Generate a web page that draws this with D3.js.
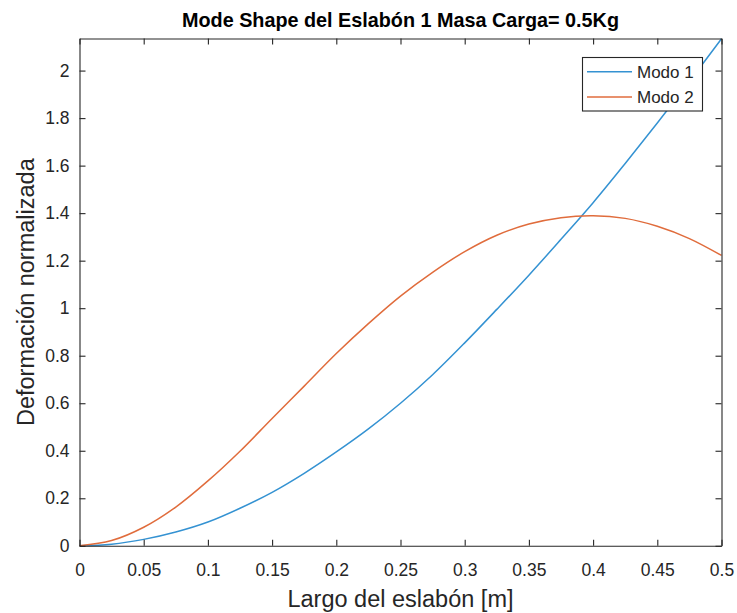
<!DOCTYPE html>
<html>
<head>
<meta charset="utf-8">
<script src="https://cdn.jsdelivr.net/npm/d3@7"></script>
<style>
  html, body { margin: 0; padding: 0; background: #ffffff; }
  svg { display: block; }
  text { font-family: "Liberation Sans", Arial, Helvetica, sans-serif; }
</style>
</head>
<body>
<svg id="chart" width="737" height="613"></svg>
<script>
// ---- data ----
const largo = [0, 0.025, 0.05, 0.075, 0.1, 0.125, 0.15, 0.175, 0.2, 0.225, 0.25,
               0.275, 0.3, 0.325, 0.35, 0.375, 0.4, 0.425, 0.45, 0.475, 0.5];
const modo1 = [0, 0.007, 0.027, 0.058, 0.100, 0.158, 0.225, 0.305, 0.395, 0.492, 0.600,
               0.720, 0.854, 0.995, 1.139, 1.290, 1.444, 1.609, 1.779, 1.954, 2.134];
const modo2 = [0, 0.022, 0.078, 0.163, 0.273, 0.398, 0.536, 0.672, 0.809, 0.935, 1.051,
               1.151, 1.238, 1.307, 1.354, 1.381, 1.389, 1.378, 1.345, 1.293, 1.222];
const seriesNames = ["Modo 1", "Modo 2"];
const xTicks = [0, 0.05, 0.1, 0.15, 0.2, 0.25, 0.3, 0.35, 0.4, 0.45, 0.5];
const xTickLabels = ["0", "0.05", "0.1", "0.15", "0.2", "0.25", "0.3", "0.35", "0.4", "0.45", "0.5"];
const yTicks = [0, 0.2, 0.4, 0.6, 0.8, 1, 1.2, 1.4, 1.6, 1.8, 2];
const yTickLabels = ["0", "0.2", "0.4", "0.6", "0.8", "1", "1.2", "1.4", "1.6", "1.8", "2"];
const titleText = "Mode Shape del Eslabón 1 Masa Carga= 0.5Kg";
const xLabelText = "Largo del eslabón [m]";
const yLabelText = "Deformación normalizada";

// ---- layout ----
const L = 79.5, R = 721.5, T = 38.5, B = 545.8;
const axisColor = "#262626";
const colors = ["#3492d2", "#e06c3c"];

const svg = d3.select("#chart");
svg.append("rect").attr("width", 737).attr("height", 613).attr("fill", "#fff");

const x = d3.scaleLinear().domain([0, 0.5]).range([L, R]);
const y = d3.scaleLinear().domain([0, 2.135]).range([B, T]);

// curves
const line = d3.line()
  .x((d, i) => x(largo[i]))
  .y(d => y(d))
  .curve(d3.curveCatmullRom.alpha(0.5));

[modo1, modo2].forEach((s, k) => {
  svg.append("path")
    .attr("d", line(s))
    .attr("fill", "none")
    .attr("stroke", colors[k])
    .attr("stroke-width", 1.5);
});

// axes
function styleAxis(g) {
  g.select(".domain").attr("stroke", axisColor).attr("stroke-width", 1.1);
  g.selectAll(".tick line").attr("stroke", axisColor).attr("stroke-width", 1.1);
  g.selectAll(".tick text").attr("fill", axisColor)
    .style("font-family", "'Liberation Sans', Arial, sans-serif")
    .style("font-size", "17.5px");
}

const xAxis = d3.axisBottom(x).tickValues(xTicks)
  .tickFormat((d, i) => xTickLabels[i]).tickSize(-6).tickPadding(17.5).tickSizeOuter(0);
svg.append("g").attr("transform", `translate(0,${B})`).call(xAxis).call(styleAxis);

const xAxisTop = d3.axisTop(x).tickValues(xTicks).tickFormat("").tickSize(-6).tickSizeOuter(0);
svg.append("g").attr("transform", `translate(0,${T})`).call(xAxisTop).call(styleAxis);

const yAxis = d3.axisLeft(y).tickValues(yTicks)
  .tickFormat((d, i) => yTickLabels[i]).tickSize(-6).tickPadding(10).tickSizeOuter(0);
svg.append("g").attr("transform", `translate(${L},0)`).call(yAxis).call(styleAxis);

const yAxisRight = d3.axisRight(y).tickValues(yTicks).tickFormat("").tickSize(-6).tickSizeOuter(0);
svg.append("g").attr("transform", `translate(${R},0)`).call(yAxisRight).call(styleAxis);

// title and labels
svg.append("text")
  .attr("x", (L + R) / 2).attr("y", 27)
  .attr("text-anchor", "middle")
  .attr("font-weight", "bold")
  .attr("font-size", "19.8px")
  .attr("fill", "#000")
  .text(titleText);

svg.append("text")
  .attr("x", (L + R) / 2).attr("y", 607)
  .attr("text-anchor", "middle")
  .attr("font-size", "23.5px")
  .attr("fill", axisColor)
  .text(xLabelText);

svg.append("text")
  .attr("transform", `translate(34,${(T + B) / 2}) rotate(-90)`)
  .attr("text-anchor", "middle")
  .attr("font-size", "23.5px")
  .attr("fill", axisColor)
  .text(yLabelText);

// legend
const lg = svg.append("g");
lg.append("rect")
  .attr("x", 582.5).attr("y", 57.5).attr("width", 120).attr("height", 53.5)
  .attr("fill", "#fff").attr("stroke", axisColor).attr("stroke-width", 1.1);
seriesNames.forEach((name, k) => {
  const yy = 71.7 + k * 25.3;
  lg.append("line")
    .attr("x1", 587).attr("x2", 632).attr("y1", yy).attr("y2", yy)
    .attr("stroke", colors[k]).attr("stroke-width", 1.5);
  lg.append("text")
    .attr("x", 637).attr("y", yy).attr("dy", "0.36em")
    .attr("font-size", "17px").attr("fill", axisColor)
    .text(name);
});
</script>
</body>
</html>
